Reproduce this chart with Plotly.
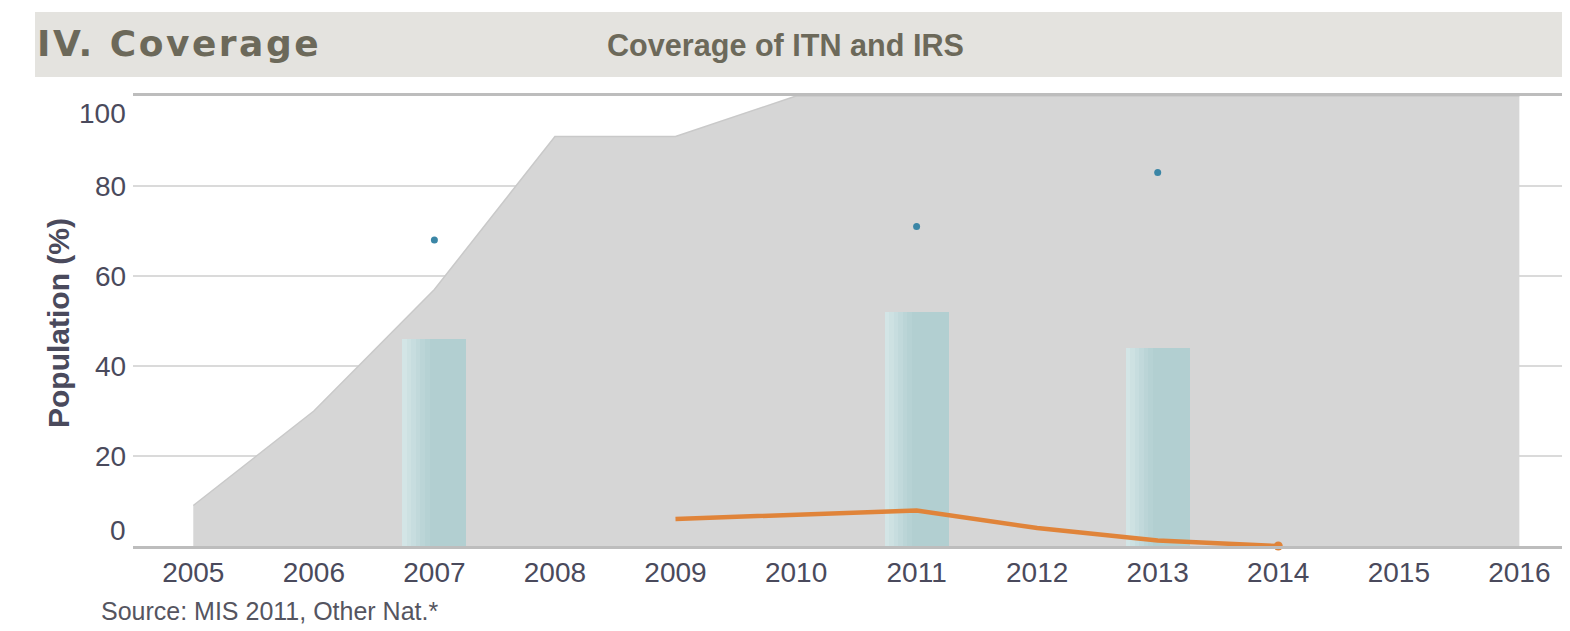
import plotly.graph_objects as go

# ---- data ----
years_area = [2005, 2006, 2007, 2008, 2009, 2010, 2011, 2012, 2013, 2014, 2015, 2016]
area_vals = [9, 30, 57, 91, 91, 100, 100, 100, 100, 100, 100, 100]

bar_years = [2007, 2011, 2013]
bar_vals = [46, 52, 44]

dot_years = [2007, 2011, 2013]
dot_vals = [68, 71, 83]

line_years = [2009, 2011, 2012, 2013, 2014]
line_vals = [6.0, 7.9, 4.0, 1.2, 0.0]

x_ticks = list(range(2005, 2017))
y_ticks = [0, 20, 40, 60, 80, 100]
y_tick_shift = [16, 0, 0, 0, 0, -17]

FONT = "Liberation Sans, Arial, sans-serif"
TICK_COLOR = "#4a4a5c"
HEAD_COLOR = "#6c695a"
XR = [2004.5, 2016.42]
YR = [0, 100]

fig = go.Figure()

# gray area (base axes)
fig.add_trace(go.Scatter(
    x=years_area, y=area_vals, mode="lines", fill="tozeroy",
    fillcolor="#d6d6d6", line=dict(color="#c9c9c9", width=1.5),
    hoverinfo="skip", showlegend=False))

# bars with a horizontal gradient (base + lighter strips on the left), overlay axes
BAR_W = 0.53
fig.add_trace(go.Bar(x=bar_years, y=bar_vals, width=BAR_W, offset=-BAR_W / 2,
                     marker=dict(color="#b2cfd1", line=dict(width=0)),
                     xaxis="x2", yaxis="y2", showlegend=False, hoverinfo="skip"))
grad_cols = ["#d3e5e6", "#cde1e2", "#c7dddf", "#c1d9db", "#bbd5d7", "#b6d2d4"]
n = len(grad_cols)
strip = BAR_W * 0.42 / n
for i, c in enumerate(grad_cols):
    fig.add_trace(go.Bar(x=bar_years, y=bar_vals, width=strip + 0.002,
                         offset=-BAR_W / 2 + i * strip,
                         marker=dict(color=c, line=dict(width=0)),
                         xaxis="x2", yaxis="y2", showlegend=False, hoverinfo="skip"))

# dots
fig.add_trace(go.Scatter(x=dot_years, y=dot_vals, mode="markers",
                         marker=dict(color="#3b86a6", size=7),
                         xaxis="x2", yaxis="y2", showlegend=False, hoverinfo="skip"))

# orange line
fig.add_trace(go.Scatter(x=line_years, y=line_vals, mode="lines",
                         line=dict(color="#e0843a", width=4.5),
                         xaxis="x2", yaxis="y2",
                         cliponaxis=False, showlegend=False, hoverinfo="skip"))
# end-point marker of the orange line
fig.add_trace(go.Scatter(x=line_years[-1:], y=line_vals[-1:], mode="markers",
                         marker=dict(color="#e0843a", size=9),
                         xaxis="x2", yaxis="y2",
                         cliponaxis=False, showlegend=False, hoverinfo="skip"))

# header band
fig.add_shape(type="rect", xref="paper", yref="paper",
              x0=(35 - 133) / 1437, x1=1.0, y0=(546 - 77) / 450, y1=(546 - 12) / 450,
              fillcolor="#e4e3df", line=dict(width=0), layer="below")

fig.add_annotation(text='<span style="letter-spacing:2.5px"><b>IV. Coverage</b></span>',
                   xref="paper", yref="paper",
                   x=(35 - 133) / 1437, y=(546 - 44) / 450, xanchor="left", yanchor="middle",
                   showarrow=False, font=dict(family="DejaVu Sans, sans-serif", size=36, color=HEAD_COLOR))
fig.add_annotation(text="<b>Coverage of ITN and IRS</b>", xref="paper", yref="paper",
                   x=(605 - 133) / 1437, y=(546 - 45) / 450, xanchor="left", yanchor="middle",
                   showarrow=False, font=dict(family=FONT, size=30.6, color=HEAD_COLOR))
fig.add_annotation(text="<b>Population (%)</b>", xref="paper", yref="paper",
                   x=(58 - 133) / 1437, y=(546 - 323) / 450, xanchor="center", yanchor="middle",
                   textangle=-90, showarrow=False, font=dict(family=FONT, size=30, color=TICK_COLOR))
fig.add_annotation(text="Source: MIS 2011, Other Nat.*", xref="paper", yref="paper",
                   x=(99 - 133) / 1437, y=(546 - 611) / 450, xanchor="left", yanchor="middle",
                   showarrow=False, font=dict(family=FONT, size=25, color="#555560"))

# y tick labels (positioned like the original)
for v, s in zip(y_ticks, y_tick_shift):
    fig.add_annotation(text=str(v), xref="paper", yref="y", x=(128 - 133) / 1437, y=v,
                       xanchor="right", yanchor="middle", yshift=s, showarrow=False,
                       font=dict(family=FONT, size=28, color=TICK_COLOR))

# page body has an 8px margin: figure is 8px smaller so it ends at the window edge
fig.update_layout(
    width=1562, height=623,
    margin=dict(l=125, r=0, t=88, b=85),
    paper_bgcolor="white", plot_bgcolor="white",
    barmode="overlay", bargap=0,
    font=dict(family=FONT),
    xaxis=dict(range=XR, tickmode="array", tickvals=x_ticks,
               ticktext=[str(t) for t in x_ticks], showgrid=False, zeroline=False,
               showline=True, mirror=True, linecolor="#bdbdbd", linewidth=2.5,
               ticks="", ticklabelstandoff=0,
               tickfont=dict(family=FONT, size=28, color=TICK_COLOR)),
    yaxis=dict(range=YR, tickmode="array", tickvals=[20, 40, 60, 80],
               showticklabels=False, showgrid=True, gridcolor="#dadada", gridwidth=2,
               zeroline=False, showline=False, ticks=""),
    xaxis2=dict(range=XR, overlaying="x", visible=False),
    yaxis2=dict(range=YR, overlaying="y", visible=False),
)

fig.write_html("out.html")
